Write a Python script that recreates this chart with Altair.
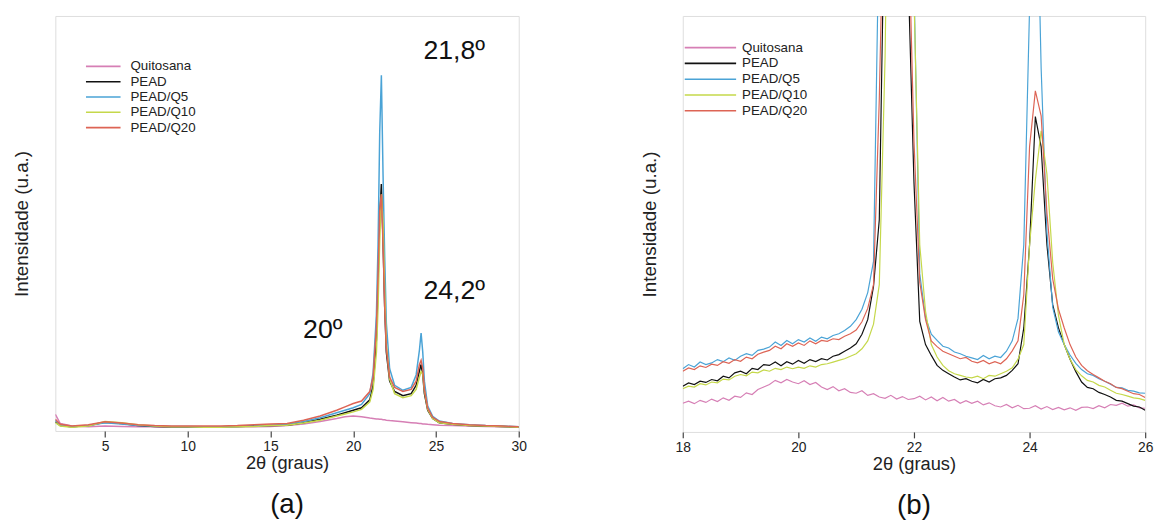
import altair as alt
import pandas as pd

FONT = "Liberation Sans"

series_names = ["Quitosana", "PEAD", "PEAD/Q5", "PEAD/Q10", "PEAD/Q20"]
series_colors = ["#d67fb5", "#111111", "#4aa3d6", "#c5d84a", "#dd6455"]

# ---------- panel (a): full pattern, 2θ = 2..30 ----------
xa = [2.0, 2.3, 3, 4, 5, 6, 7, 8, 9, 10,
      11, 12, 13, 14, 15, 16, 17, 18, 19, 19.5,
      20, 20.5, 21, 21.2, 21.4, 21.5, 21.6, 21.7, 21.8, 21.9,
      22.0, 22.2, 22.5, 23, 23.5, 23.8, 24.0, 24.1, 24.2, 24.3,
      24.5, 24.8, 25.2, 26, 27, 28, 29, 30]

a_quit = [4.0, 1.8, 1.2, 1.0, 1.2, 1.1, 1.0, 1.0, 0.9, 0.9,
          0.9, 0.9, 1.0, 1.0, 1.1, 1.3, 1.7, 2.3, 3.0, 3.4,
          3.6, 3.4, 3.1, 3.0, 2.9, 2.9, 2.8, 2.8, 2.7, 2.7,
          2.6, 2.5, 2.4, 2.2, 2.0, 1.9, 1.8, 1.8, 1.7, 1.7,
          1.6, 1.5, 1.4, 1.3, 1.2, 1.1, 1.0, 1.0]
a_pead = [2.2, 1.3, 1.0, 1.3, 2.1, 1.8, 1.3, 1.1, 1.0, 1.0,
          1.0, 1.0, 1.1, 1.2, 1.3, 1.4, 2.0, 2.8, 3.8, 4.4,
          5.0, 5.6, 7.5, 11.0, 22.0, 36.0, 52.0, 59.5, 46.0, 30.0,
          19.0, 12.0, 9.5, 8.5, 9.0, 11.0, 14.5, 16.0, 13.5, 9.0,
          5.0, 3.0, 2.0, 1.6, 1.3, 1.2, 1.1, 0.9]
a_q5 = [2.6, 1.4, 1.0, 1.3, 2.0, 1.7, 1.3, 1.2, 1.1, 1.1,
        1.0, 1.0, 1.1, 1.2, 1.4, 1.6, 2.3, 3.2, 4.4, 5.0,
        5.6, 6.4, 9.0, 14.0, 28.0, 45.0, 72.0, 85.7, 62.0, 42.0,
        26.0, 15.0, 11.0, 9.8, 10.5, 13.5, 19.5, 23.6, 19.0, 12.0,
        6.0, 3.5, 2.4, 1.8, 1.5, 1.3, 1.2, 1.0]
a_q10 = [2.0, 1.2, 0.9, 1.2, 2.3, 2.0, 1.5, 1.2, 1.0, 1.0,
         0.9, 0.9, 1.0, 1.1, 1.3, 1.4, 1.9, 2.6, 3.6, 4.1,
         4.6, 5.2, 7.0, 10.0, 19.0, 30.0, 46.0, 57.0, 50.0, 34.0,
         21.0, 12.5, 9.0, 8.0, 8.5, 10.0, 13.0, 14.3, 13.8, 9.8,
         5.2, 3.0, 2.0, 1.6, 1.3, 1.2, 1.1, 0.9]
a_q20 = [2.8, 1.6, 1.2, 1.5, 2.2, 1.9, 1.5, 1.3, 1.2, 1.2,
         1.2, 1.2, 1.3, 1.5, 1.7, 1.8, 2.6, 3.6, 5.0, 5.8,
         6.6, 7.2, 9.5, 13.0, 25.0, 38.0, 53.0, 57.0, 45.0, 30.0,
         20.0, 13.0, 10.5, 9.5, 10.0, 12.0, 16.0, 17.0, 15.0, 10.0,
         5.5, 3.3, 2.3, 1.8, 1.5, 1.3, 1.2, 1.0]

ann_labels = ["21,8º", "24,2º", "20º"]
ann_x = [26.1, 26.1, 18.16]
ann_y = [91.5, 33.8, 24.3]

# ---------- panel (b): zoom 2θ = 18..26 ----------
xb = [18.0, 18.1, 18.2, 18.3, 18.4, 18.5, 18.6, 18.7, 18.8, 18.9,
      19.0, 19.1, 19.2, 19.3, 19.4, 19.5, 19.6, 19.7, 19.8, 19.9,
      20.0, 20.1, 20.2, 20.3, 20.4, 20.5, 20.6, 20.7, 20.8, 20.9,
      21.0, 21.1, 21.2, 21.3, 21.4, 21.5, 21.6, 21.7, 21.8, 21.9,
      22.0, 22.1, 22.2, 22.3, 22.4, 22.5, 22.6, 22.7, 22.8, 22.9,
      23.0, 23.1, 23.2, 23.3, 23.4, 23.5, 23.6, 23.7, 23.8, 23.9,
      24.0, 24.1, 24.2, 24.3, 24.4, 24.5, 24.6, 24.7, 24.8, 24.9,
      25.0, 25.1, 25.2, 25.3, 25.4, 25.5, 25.6, 25.7, 25.8, 25.9,
      26.0]

b_quit = [6.9, 7.4, 6.8, 7.6, 7.1, 7.9, 7.3, 8.2, 7.6, 8.6,
          8.3, 9.4, 9.0, 10.2, 10.8, 11.4, 12.4, 11.8, 12.6, 12.0,
          11.6, 12.3, 11.4, 11.9, 10.8, 10.2, 10.9, 9.9, 10.4, 9.5,
          9.3, 9.9, 8.8, 9.2, 8.4, 8.1, 8.8, 7.9, 8.5, 7.8,
          8.0, 8.6, 7.7, 8.4, 7.5, 8.3, 7.4, 7.8, 6.9, 7.5,
          6.9, 7.4, 6.5, 7.0, 6.3, 6.0, 6.6, 5.8, 6.4, 5.6,
          5.7, 6.3, 5.5, 6.1, 5.4, 5.9, 5.3, 5.8, 5.2, 5.9,
          6.0, 5.6, 6.3, 5.8, 6.6, 6.4, 6.9, 6.2, 6.5, 5.8,
          5.7]
b_pead = [11.0, 11.8, 11.4, 12.2, 11.9, 12.6, 12.3, 13.4, 13.0, 14.2,
          14.6, 14.0, 15.3, 15.0, 16.2, 16.0, 16.8, 15.9, 16.9, 16.3,
          17.2, 16.5, 17.4, 16.9, 17.6, 17.3, 18.2, 18.6, 19.4, 20.2,
          21.2, 23.5, 27.0, 35.0, 51.0, 135, 250, 300, 260, 110,
          60.0, 26.6, 21.0, 18.4, 16.0, 14.8, 14.0, 13.2, 12.5, 12.8,
          12.2, 11.8, 12.6, 12.0, 12.8, 13.0, 13.6, 14.8, 16.4, 25.0,
          45.0, 75.8, 68.6, 45.0, 30.6, 25.0, 21.0, 17.5, 14.5, 12.0,
          10.7, 10.4, 9.5, 9.0, 8.4, 7.6, 7.4, 6.8, 6.2, 6.0,
          5.2]
b_q5 = [15.2, 16.2, 15.6, 16.8, 16.2, 16.6, 17.4, 16.9, 17.8, 17.2,
        18.2, 18.8, 18.4, 19.6, 19.9, 20.4, 21.6, 20.8, 22.0, 21.2,
        22.2, 21.6, 22.6, 21.8, 22.8, 22.4, 23.2, 23.6, 24.4, 25.4,
        27.0, 29.5, 33.5, 41.0, 125, 260, 320, 340, 300, 200,
        108, 38.0, 27.5, 23.5, 22.0, 20.6, 20.2, 19.2, 18.8, 18.2,
        17.8, 17.4, 18.4, 17.6, 18.2, 17.9, 19.4, 21.9, 27.3, 45.0,
        102, 150, 87.5, 48.0, 30.0, 24.0, 21.0, 18.5, 16.5, 15.0,
        14.0, 13.6, 12.8, 12.2, 11.5, 10.7, 10.6, 10.0, 9.8, 9.4,
        9.3]
b_q10 = [10.4, 11.0, 10.8, 11.6, 11.3, 12.0, 11.8, 12.7, 12.5, 13.4,
         13.8, 13.5, 14.4, 14.2, 14.9, 14.6, 15.3, 15.0, 15.6, 15.2,
         15.6, 15.3, 15.9, 15.6, 16.2, 16.4, 16.8, 17.2, 17.6, 18.2,
         18.8, 20.0, 21.9, 25.9, 35.4, 90.0, 190, 290, 280, 220,
         105, 45.0, 29.0, 21.0, 18.0, 16.0, 14.7, 14.0, 13.6, 13.2,
         13.0, 13.4, 12.8, 13.6, 13.4, 14.0, 14.6, 15.4, 17.5, 21.0,
         45.0, 60.6, 72.4, 62.0, 40.8, 28.0, 21.0, 17.5, 15.0, 13.5,
         12.4, 12.0, 11.2, 10.8, 10.0, 9.3, 9.0, 8.6, 8.2, 8.0,
         7.6]
b_q20 = [14.6, 15.4, 15.0, 15.9, 15.5, 16.3, 16.0, 16.9, 16.5, 17.4,
         17.0, 18.0, 17.6, 18.7, 19.2, 19.6, 20.6, 20.0, 21.2, 20.6,
         21.4, 20.8, 21.9, 21.2, 22.0, 21.8, 22.4, 22.2, 23.0, 23.6,
         24.5, 26.5, 29.7, 35.4, 80.0, 145, 280, 300, 260, 125,
         70.0, 36.0, 27.0, 21.9, 20.5, 19.4, 18.8, 18.2, 17.6, 17.9,
         17.0, 16.6, 17.2, 16.4, 16.9, 16.4, 17.6, 19.5, 21.9, 33.0,
         68.6, 82.0, 76.0, 52.7, 36.8, 29.5, 25.0, 21.0, 18.0, 16.0,
         14.7, 13.8, 13.0, 12.2, 11.6, 10.7, 10.4, 9.8, 9.2, 9.0,
         8.3]


def long_frame(xs, series_lists):
    rows = []
    for k, (name, vals) in enumerate(zip(series_names, series_lists)):
        for x, v in zip(xs, vals):
            rows.append({"x": x, "y": v, "series": name, "k": k})
    return pd.DataFrame(rows)


df_a = long_frame(xa, [a_quit, a_pead, a_q5, a_q10, a_q20])
df_b = long_frame(xb, [b_quit, b_pead, b_q5, b_q10, b_q20])
df_ann = pd.DataFrame({"x": ann_x, "y": ann_y, "label": ann_labels})
df_leg = pd.DataFrame({"series": series_names, "row": list(range(len(series_names)))})

color_scale = alt.Scale(domain=series_names, range=series_colors)
y_axis = alt.Axis(domain=False, ticks=False, labels=False, grid=False,
                  title="Intensidade (u.a.)", titleFont=FONT, titleFontSize=19,
                  titleFontWeight="normal", titleColor="#222", titlePadding=24)


def x_axis(values):
    return alt.Axis(values=values, domain=False, grid=False, ticks=True, tickSize=6,
                    tickColor="#444", tickWidth=1.2, labelFont=FONT, labelFontSize=14,
                    labelColor="#222", labelPadding=3, labelFlush=False,
                    title="2θ (graus)", titleFont=FONT, titleFontSize=18.5,
                    titleFontWeight="normal", titleColor="#222", titlePadding=0)


def panel(df, domain, ticks, lw, leg_x, leg_len, leg_gap, leg_y0, leg_dy):
    lines = alt.Chart(df).mark_line(clip=True, strokeWidth=lw).encode(
        x=alt.X("x:Q", scale=alt.Scale(domain=domain, nice=False, zero=False), axis=x_axis(ticks)),
        y=alt.Y("y:Q", scale=alt.Scale(domain=[0, 100], nice=False, zero=True), axis=y_axis),
        color=alt.Color("series:N", scale=color_scale, legend=None),
        detail="k:O",
    )
    leg_lines = alt.Chart(df_leg).mark_rule(strokeWidth=1.6).encode(
        x=alt.value(leg_x), x2=alt.value(leg_x + leg_len),
        y=alt.Y("ly:Q", scale=None, axis=None),
        color=alt.Color("series:N", scale=color_scale, legend=None),
    ).transform_calculate(ly=f"{leg_y0} + {leg_dy} * datum.row")
    leg_text = alt.Chart(df_leg).mark_text(align="left", baseline="middle", font=FONT,
                                           fontSize=13.5, color="#222").encode(
        x=alt.value(leg_x + leg_len + leg_gap),
        y=alt.Y("ly:Q", scale=None, axis=None),
        text="series:N",
    ).transform_calculate(ly=f"{leg_y0} + {leg_dy} * datum.row")
    return lines, leg_lines, leg_text


def caption(txt):
    return alt.TitleParams(txt, orient="bottom", font=FONT, fontSize=28,
                           fontWeight="normal", color="#111", offset=20, anchor="middle")


la, lla, lta = panel(df_a, [2, 30], [5, 10, 15, 20, 25, 30], 1.5, 31, 35, 10, 51, 15.5)
ann = alt.Chart(df_ann).mark_text(font=FONT, fontSize=27, color="#111",
                                  align="center", baseline="middle").encode(
    x="x:Q", y="y:Q", text="label:N")
chart_a = alt.layer(la, ann, lla, lta).properties(width=469, height=420, title=caption("(a)"))

lb, llb, ltb = panel(df_b, [18, 26], [18, 20, 22, 24, 26], 1.2, 2, 52, 6, 32, 16)
chart_b = alt.layer(lb, llb, ltb).properties(width=468, height=421, title=caption("(b)"))

chart = alt.hconcat(chart_a, chart_b, spacing=113).properties(
    padding={"left": 12, "top": 12, "right": 6, "bottom": 0}
).configure_view(stroke="#444", strokeWidth=1.6).configure(background="white")

chart.save("out.html", embed_options={"renderer": "svg", "actions": False})
